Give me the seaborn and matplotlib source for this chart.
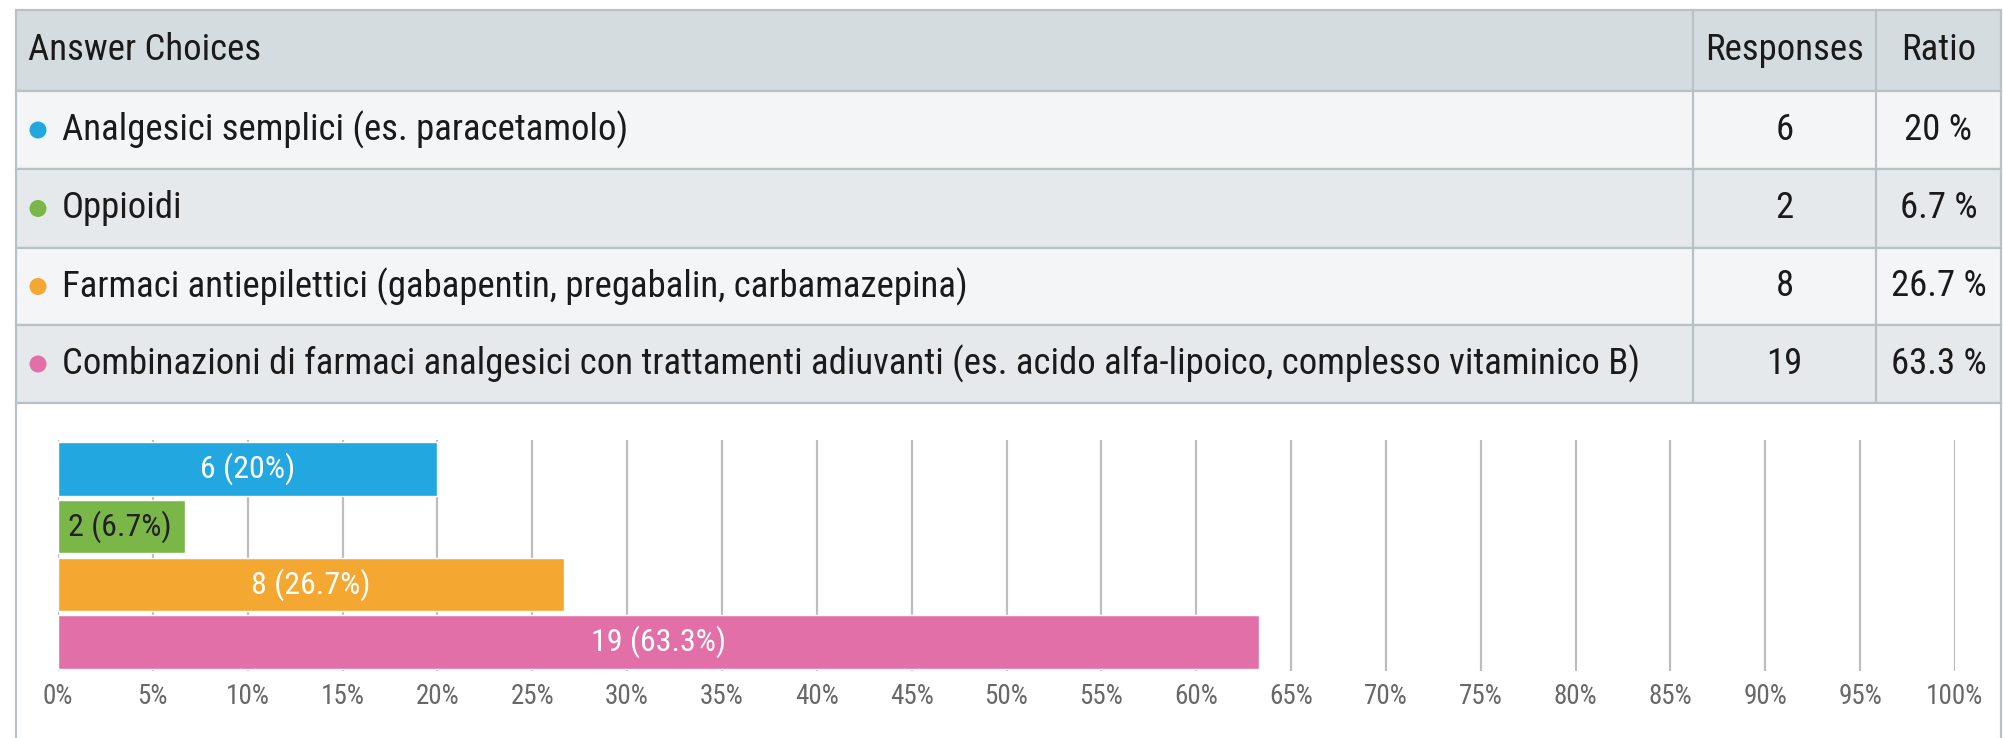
import numpy as np
import pandas as pd
import matplotlib
matplotlib.use("Agg")
import matplotlib.pyplot as plt
from matplotlib.patches import Rectangle, Circle
import seaborn as sns

# survey data
choices = [
    "Analgesici semplici (es. paracetamolo)",
    "Oppioidi",
    "Farmaci antiepilettici (gabapentin, pregabalin, carbamazepina)",
    "Combinazioni di farmaci analgesici con trattamenti adiuvanti (es. acido alfa-lipoico, complesso vitaminico B)",
]
responses = [6, 2, 8, 19]
ratios = [20, 6.7, 26.7, 63.3]
ratio_labels = ["20 %", "6.7 %", "26.7 %", "63.3 %"]
colors = ["#22a7e0", "#7ab648", "#f4a731", "#e26fa7"]
xticks = list(range(0, 101, 5))

sns.set_style("white")
plt.rcParams["font.family"] = ["Roboto Condensed", "Roboto", "DejaVu Sans"]

W, H = 2003, 738
fig = plt.figure(figsize=(W / 100, H / 100), dpi=100)
fig.patch.set_facecolor("white")

# table drawn in pixel coordinates on a background axes
bg = fig.add_axes([0, 0, 1, 1])
bg.set_xlim(0, W)
bg.set_ylim(H, 0)
bg.axis("off")

border = "#b8c1c6"
row_edges = [10, 91, 169, 248, 325, 403]
x_left, x_right = 16, 2001
col1, col2 = 1693, 1876
fills = ["#d5dce0", "#f4f5f6", "#e5e9eb", "#f4f5f6", "#e5e9eb"]

for i in range(5):
    y0, y1 = row_edges[i], row_edges[i + 1]
    bg.add_patch(Rectangle((x_left, y0), x_right - x_left, y1 - y0,
                           facecolor=fills[i], edgecolor=border, lw=1.6))
    for cx in (col1, col2):
        bg.plot([cx, cx], [y0, y1], color=border, lw=1.6)

# chart panel
bg.add_patch(Rectangle((x_left, 403), x_right - x_left, 340,
                       facecolor="white", edgecolor=border, lw=1.6))

tfs = 26.5
txt = "#1a1a1a"
hy = (row_edges[0] + row_edges[1]) / 2
bg.text(28, hy, "Answer Choices", fontsize=tfs, color=txt, va="center", ha="left")
bg.text((col1 + col2) / 2, hy, "Responses", fontsize=tfs, color=txt, va="center", ha="center")
bg.text((col2 + x_right) / 2, hy, "Ratio", fontsize=tfs, color=txt, va="center", ha="center")

for i, (c, n, r, col) in enumerate(zip(choices, responses, ratio_labels, colors)):
    cy = (row_edges[i + 1] + row_edges[i + 2]) / 2
    bg.add_patch(Circle((38, cy), 8.5, facecolor=col, edgecolor="none"))
    bg.text(62, cy, c, fontsize=tfs, color=txt, va="center", ha="left")
    bg.text((col1 + col2) / 2, cy, str(n), fontsize=tfs, color=txt, va="center", ha="center")
    bg.text((col2 + x_right) / 2, cy, r, fontsize=tfs, color=txt, va="center", ha="center")

# bar chart
ax = fig.add_axes([58 / W, 1 - 671 / H, (1955 - 58) / W, (671 - 440) / H])
ax.set_facecolor("none")
df = pd.DataFrame({"choice": choices, "ratio": ratios, "n": responses})
sns.barplot(data=df, x="ratio", y="choice", hue="choice", palette=colors,
            orient="h", width=0.93, saturation=1, legend=False, ax=ax)

ax.set_xlim(0, 100)
ax.set_xticks(xticks)
ax.set_xticklabels([f"{t}%" for t in xticks], fontsize=19.5, color="#686868")
ax.tick_params(axis="x", length=0, pad=9)
ax.set_yticks([])
ax.set_xlabel("")
ax.set_ylabel("")
for s in ax.spines.values():
    s.set_visible(False)
ax.set_axisbelow(True)
ax.grid(axis="x", color="#bdbdbd", lw=1.6)
ax.grid(axis="y", visible=False)

for i, (n, r) in enumerate(zip(responses, ratios)):
    lab = f"{n} ({r:g}%)"
    if r < 10:
        ax.text(0.55, i, lab, ha="left", va="center", fontsize=23,
                color="#222222")
    else:
        ax.text(r / 2, i, lab, ha="center", va="center", fontsize=23,
                color="white")

fig.savefig("out.png", dpi=100)
